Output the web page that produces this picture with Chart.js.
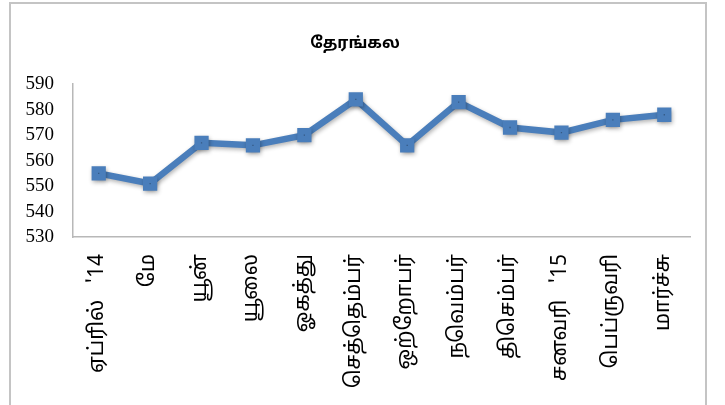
<!DOCTYPE html>
<html>
<head>
<meta charset="utf-8">
<script src="https://cdn.jsdelivr.net/npm/chart.js@4/dist/chart.umd.min.js"></script>
<style>
  html, body { margin: 0; padding: 0; background: #fff; }
  #wrap { position: relative; width: 725px; height: 405px; overflow: hidden; }
  #frame { position: absolute; left: 9px; top: 2px; width: 698px; height: 430px; border: 2px solid #c4c4c4; box-sizing: border-box; }
  #c { position: absolute; left: 0; top: 0; }
</style>
</head>
<body>
<div id="wrap">
  <div id="frame"></div>
  <canvas id="c" width="725" height="405"></canvas>
</div>
<script>
const title = "தேரங்கல";
const categories = ["ஏப்ரில்   '14", "மே", "யூன்", "யூலை", "ஓகத்து", "செத்தெம்பர்", "ஒற்றோபர்", "நவெம்பர்", "திசெம்பர்", "சனவரி   '15", "பெப்ருவரி", "மார்ச்சு"];
const values = [555, 551, 567, 566, 570, 584, 566, 583, 573, 571, 576, 578];
const yTicks = [530, 540, 550, 560, 570, 580, 590];

const tamilFont = "'Noto Sans Tamil', 'Lohit Tamil', 'Noto Sans', 'DejaVu Sans', sans-serif";

const shadowPlugin = {
  id: 'shadow',
  beforeDatasetDraw(chart) {
    const ctx = chart.ctx;
    ctx.save();
    ctx.shadowColor = 'rgba(0,0,0,0.3)';
    ctx.shadowBlur = 4;
    ctx.shadowOffsetX = 1;
    ctx.shadowOffsetY = 2;
  },
  afterDatasetDraw(chart) {
    chart.ctx.restore();
  }
};

new Chart(document.getElementById('c'), {
  type: 'line',
  data: {
    labels: categories,
    datasets: [{
      data: values,
      borderColor: '#4a7ebb',
      backgroundColor: '#4a7ebb',
      borderWidth: 6.5,
      pointStyle: 'rect',
      pointRadius: 5.5,
      pointHoverRadius: 5.5,
      tension: 0,
      fill: false
    }]
  },
  options: {
    responsive: false,
    animation: false,
    layout: { padding: { left: 20, right: 35, top: 0, bottom: 0 } },
    plugins: {
      legend: { display: false },
      tooltip: { enabled: false },
      title: {
        display: true,
        text: title,
        color: '#000',
        font: { family: tamilFont, size: 16, weight: 'bold' },
        padding: { top: 35, bottom: 30 }
      }
    },
    scales: {
      x: {
        offset: true,
        grid: { display: false, drawTicks: false },
        border: { display: true, color: '#b8b8b8', width: 1.5 },
        ticks: {
          color: '#000',
          font: { family: tamilFont, size: 21 },
          minRotation: 90,
          maxRotation: 90,
          autoSkip: false,
          padding: 17
        },
        afterFit(scale) { scale.height = 405 - 237; }
      },
      y: {
        min: 530,
        max: 590,
        afterBuildTicks(scale) { scale.ticks = yTicks.map(v => ({ value: v })); },
        grid: { display: false, drawTicks: false },
        border: { display: true, color: '#b8b8b8', width: 1.5 },
        ticks: {
          color: '#000',
          autoSkip: false,
          font: { family: "'Liberation Serif', 'Times New Roman', serif", size: 19, lineHeight: 1 },
          padding: 19
        },
        afterFit(scale) { scale.width = 53; }
      }
    }
  },
  plugins: [shadowPlugin]
});
</script>
</body>
</html>
